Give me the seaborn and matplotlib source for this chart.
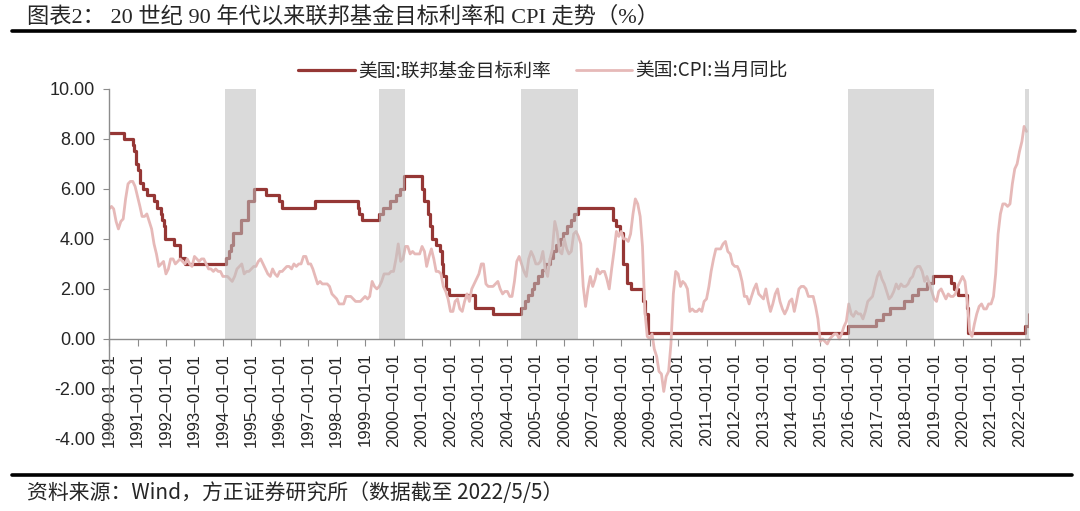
import pandas as pd
import seaborn as sns
from matplotlib import pyplot as plt
from matplotlib.lines import Line2D
import matplotlib.dates as mdates
from matplotlib.ticker import FuncFormatter

# Fed funds target rate (upper bound after 2008): change dates and new levels
rate_dates = [
    '1990-01-01', '1990-07-13', '1990-10-29', '1990-11-13', '1990-12-07', '1990-12-19',
    '1991-01-09', '1991-02-01', '1991-03-08', '1991-04-30', '1991-08-06', '1991-09-13',
    '1991-10-31', '1991-11-06', '1991-12-06', '1991-12-20', '1992-04-09', '1992-07-02',
    '1992-09-04', '1994-02-04', '1994-03-22', '1994-04-18', '1994-05-17', '1994-08-16',
    '1994-11-15', '1995-02-01', '1995-07-06', '1995-12-19', '1996-01-31', '1997-03-25',
    '1998-09-29', '1998-10-15', '1998-11-17', '1999-06-30', '1999-08-24', '1999-11-16',
    '2000-02-02', '2000-03-21', '2000-05-16', '2001-01-03', '2001-01-31', '2001-03-20',
    '2001-04-18', '2001-05-15', '2001-06-27', '2001-08-21', '2001-09-17', '2001-10-02',
    '2001-11-06', '2001-12-11', '2002-11-06', '2003-06-25', '2004-06-30', '2004-08-10',
    '2004-09-21', '2004-11-10', '2004-12-14', '2005-02-02', '2005-03-22', '2005-05-03',
    '2005-06-30', '2005-08-09', '2005-09-20', '2005-11-01', '2005-12-13', '2006-01-31',
    '2006-03-28', '2006-05-10', '2006-06-29', '2007-09-18', '2007-10-31', '2007-12-11',
    '2008-01-22', '2008-01-30', '2008-03-18', '2008-04-30', '2008-10-08', '2008-10-29',
    '2008-12-16', '2015-12-16', '2016-12-14', '2017-03-15', '2017-06-14', '2017-12-13',
    '2018-03-21', '2018-06-13', '2018-09-26', '2018-12-19', '2019-07-31', '2019-09-18',
    '2019-10-30', '2020-03-03', '2020-03-15', '2022-03-16', '2022-05-04',
]
rate_values = [
    8.25, 8.00, 7.75, 7.50, 7.25, 7.00,
    6.75, 6.25, 6.00, 5.75, 5.50, 5.25,
    5.00, 4.75, 4.50, 4.00, 3.75, 3.25,
    3.00, 3.25, 3.50, 3.75, 4.25, 4.75,
    5.50, 6.00, 5.75, 5.50, 5.25, 5.50,
    5.25, 5.00, 4.75, 5.00, 5.25, 5.50,
    5.75, 6.00, 6.50, 6.00, 5.50, 5.00,
    4.50, 4.00, 3.75, 3.50, 3.00, 2.50,
    2.00, 1.75, 1.25, 1.00, 1.25, 1.50,
    1.75, 2.00, 2.25, 2.50, 2.75, 3.00,
    3.25, 3.50, 3.75, 4.00, 4.25, 4.50,
    4.75, 5.00, 5.25, 4.75, 4.50, 4.25,
    3.50, 3.00, 2.25, 2.00, 1.50, 1.00,
    0.25, 0.50, 0.75, 1.00, 1.25, 1.50,
    1.75, 2.00, 2.25, 2.50, 2.25, 2.00,
    1.75, 1.25, 0.25, 0.50, 1.00,
]

# US CPI YoY, monthly, 1990-01 .. 2022-04
cpi_start = '1990-01-01'
cpi_values = [
    5.2, 5.3, 5.2, 4.7, 4.4, 4.7, 4.8, 5.6, 6.2, 6.3, 6.3, 6.1,
    5.7, 5.3, 4.9, 4.9, 5.0, 4.7, 4.4, 3.8, 3.4, 2.9, 3.0, 3.1,
    2.6, 2.8, 3.2, 3.2, 3.0, 3.1, 3.2, 3.1, 3.0, 3.2, 3.0, 2.9,
    3.3, 3.2, 3.1, 3.2, 3.2, 3.0, 2.8, 2.8, 2.7, 2.8, 2.7, 2.7,
    2.5, 2.5, 2.5, 2.4, 2.3, 2.5, 2.8, 2.9, 3.0, 2.6, 2.7, 2.7,
    2.8, 2.9, 2.9, 3.1, 3.2, 3.0, 2.8, 2.6, 2.5, 2.8, 2.6, 2.5,
    2.7, 2.7, 2.8, 2.9, 2.9, 2.8, 3.0, 2.9, 3.0, 3.0, 3.3, 3.3,
    3.0, 3.0, 2.8, 2.5, 2.2, 2.3, 2.2, 2.2, 2.2, 2.1, 1.8, 1.7,
    1.6, 1.4, 1.4, 1.4, 1.7, 1.7, 1.7, 1.6, 1.5, 1.5, 1.5, 1.6,
    1.7, 1.6, 1.7, 2.3, 2.1, 2.0, 2.1, 2.3, 2.6, 2.6, 2.6, 2.7,
    2.7, 3.2, 3.8, 3.1, 3.2, 3.7, 3.7, 3.4, 3.5, 3.4, 3.4, 3.4,
    3.7, 3.5, 2.9, 3.3, 3.6, 3.2, 2.7, 2.7, 2.6, 2.1, 1.9, 1.6,
    1.1, 1.1, 1.5, 1.6, 1.2, 1.1, 1.5, 1.8, 1.5, 2.0, 2.2, 2.4,
    2.6, 3.0, 3.0, 2.2, 2.1, 2.1, 2.1, 2.2, 2.3, 2.0, 1.8, 1.9,
    1.9, 1.7, 1.7, 2.3, 3.1, 3.3, 3.0, 2.7, 2.5, 3.2, 3.5, 3.3,
    3.0, 3.0, 3.1, 3.5, 2.8, 2.5, 3.2, 3.6, 4.7, 4.3, 3.5, 3.4,
    4.0, 3.6, 3.4, 3.5, 4.2, 4.3, 4.1, 3.8, 2.1, 1.3, 2.0, 2.5,
    2.1, 2.4, 2.8, 2.6, 2.7, 2.7, 2.4, 2.0, 2.8, 3.5, 4.3, 4.1,
    4.3, 4.0, 4.0, 3.9, 4.2, 5.0, 5.6, 5.4, 4.9, 3.7, 1.1, 0.1,
    0.0, 0.2, -0.4, -0.7, -1.3, -1.4, -2.1, -1.5, -1.3, -0.2, 1.8, 2.7,
    2.6, 2.1, 2.3, 2.2, 2.0, 1.1, 1.2, 1.1, 1.1, 1.2, 1.1, 1.5,
    1.6, 2.1, 2.7, 3.2, 3.6, 3.6, 3.6, 3.8, 3.9, 3.5, 3.4, 3.0,
    2.9, 2.9, 2.7, 2.3, 1.7, 1.7, 1.4, 1.7, 2.0, 2.2, 1.8, 1.7,
    1.6, 2.0, 1.5, 1.1, 1.4, 1.8, 2.0, 1.5, 1.2, 1.0, 1.2, 1.5,
    1.6, 1.1, 1.5, 2.0, 2.1, 2.1, 2.0, 1.7, 1.7, 1.7, 1.3, 0.8,
    -0.1, 0.0, -0.1, -0.2, 0.0, 0.1, 0.2, 0.2, 0.0, 0.2, 0.5, 0.7,
    1.4, 1.0, 0.9, 1.1, 1.0, 1.0, 0.8, 1.1, 1.5, 1.6, 1.7, 2.1,
    2.5, 2.7, 2.4, 2.2, 1.9, 1.6, 1.7, 1.9, 2.2, 2.0, 2.2, 2.1,
    2.1, 2.2, 2.4, 2.5, 2.8, 2.9, 2.9, 2.7, 2.3, 2.5, 2.2, 1.9,
    1.6, 1.5, 1.9, 2.0, 1.8, 1.6, 1.8, 1.7, 1.7, 1.8, 2.1, 2.3,
    2.5, 2.3, 1.5, 0.3, 0.1, 0.6, 1.0, 1.3, 1.4, 1.2, 1.2, 1.4,
    1.4, 1.7, 2.6, 4.2, 5.0, 5.4, 5.4, 5.3, 5.4, 6.2, 6.8, 7.0,
    7.5, 7.9, 8.5, 8.3,
]

# Rate-hike periods (shaded)
hike_starts = ['1994-02-01', '1999-06-30', '2004-06-30', '2015-12-16', '2022-03-16']
hike_ends = ['1995-02-28', '2000-05-31', '2006-06-30', '2018-12-31', '2022-05-05']

rate_label = '美国:联邦基金目标利率'
cpi_label = '美国:CPI:当月同比'
title = '图表2： 20 世纪 90 年代以来联邦基金目标利率和 CPI 走势（%）'
source = '资料来源：Wind，方正证券研究所（数据截至 2022/5/5）'

rate_df = pd.DataFrame({'date': pd.to_datetime(rate_dates), 'value': rate_values})
cpi_df = pd.DataFrame({'date': pd.date_range(cpi_start, periods=len(cpi_values), freq='MS'),
                       'value': cpi_values})

sns.set_style('white')
plt.rcParams['font.family'] = ['Liberation Sans', 'Noto Sans CJK SC', 'DejaVu Sans']

fig = plt.figure(figsize=(10.8, 5.11), dpi=100)
ax = fig.add_axes([0.101, 0.141, 0.852, 0.685])

rate_color = '#953735'
cpi_color = '#E6B9B8'

sns.lineplot(data=rate_df, x='date', y='value', ax=ax, color=rate_color, linewidth=2.3,
             drawstyle='steps-post', label=rate_label, zorder=2)
sns.lineplot(data=cpi_df, x='date', y='value', ax=ax, color=cpi_color, linewidth=2.0,
             label=cpi_label, zorder=2)

# gray bands drawn over the lines, semi-transparent
for s, e in zip(hike_starts, hike_ends):
    ax.fill_between([pd.Timestamp(s), pd.Timestamp(e)], 0, 10, color='#BDBDBD',
                    alpha=0.55, linewidth=0, zorder=3)

ax.set_xlim(pd.Timestamp('1990-01-01'), pd.Timestamp('2022-05-06'))
ax.set_ylim(-4, 10)
ax.set_yticks(range(-4, 11, 2))
ax.yaxis.set_major_formatter(FuncFormatter(lambda v, p: f'{v:.2f}'))
ax.xaxis.set_major_locator(mdates.YearLocator(1, month=1, day=1))
ax.xaxis.set_major_formatter(mdates.DateFormatter('%Y–%m–%d'))
ax.set_xlabel('')
ax.set_ylabel('')

for side in ['top', 'right']:
    ax.spines[side].set_visible(False)
for side in ['left', 'bottom']:
    ax.spines[side].set_color('#8C8C8C')
    ax.spines[side].set_linewidth(1.0)
ax.spines['bottom'].set_position(('data', 0))
ax.spines['bottom'].set_zorder(4)

ax.tick_params(axis='y', direction='out', length=4, color='#8C8C8C', labelsize=13,
               pad=6, left=True)
ax.tick_params(axis='x', direction='out', length=5, color='#8C8C8C', labelsize=12.2,
               pad=5, rotation=90, bottom=True)
for lbl in ax.get_xticklabels():
    lbl.set_verticalalignment('top')

ax.legend_.remove()
handles = [Line2D([], [], color=rate_color, linewidth=2.3),
           Line2D([], [], color=cpi_color, linewidth=2.0)]
fig.legend(handles, [rate_label, cpi_label], loc='center', bbox_to_anchor=(0.503, 0.861),
           ncol=2, frameon=False, handlelength=3.0, handletextpad=0.2, columnspacing=1.3,
           prop={'family': ['Noto Sans CJK SC'], 'size': 13.5})

# title, rules and source note
fig.text(0.025, 0.966, title, ha='left', va='center', fontsize=16,
         family=['Liberation Serif', 'Noto Sans CJK SC'])
fig.add_artist(Line2D([0.011, 0.995], [0.939, 0.939], transform=fig.transFigure,
                      color='black', linewidth=2.6))
fig.add_artist(Line2D([0.011, 0.993], [0.070, 0.070], transform=fig.transFigure,
                      color='black', linewidth=2.6))
fig.text(0.025, 0.035, source, ha='left', va='center', fontsize=15, style='italic',
         family=['Noto Sans CJK SC', 'DejaVu Sans'])

fig.savefig('out.png', dpi=100)
